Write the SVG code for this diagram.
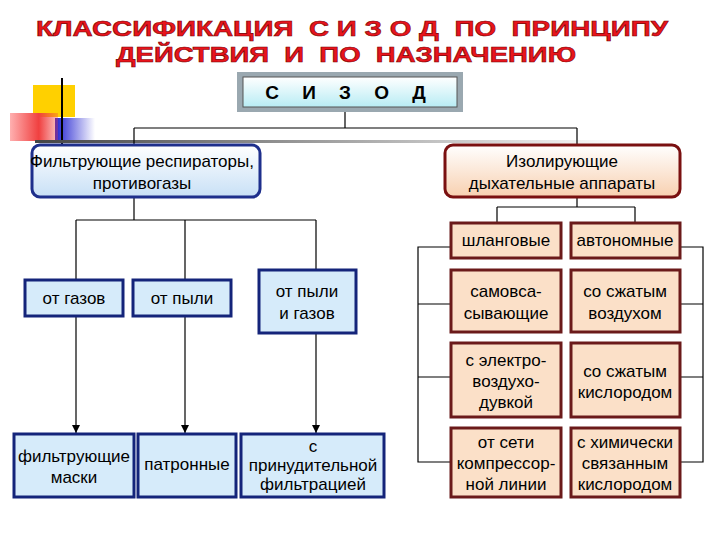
<svg xmlns="http://www.w3.org/2000/svg" width="720" height="540" viewBox="0 0 720 540">
<style>
text{font-family:"Liberation Sans",Arial,sans-serif;font-size:17px;fill:#000;text-anchor:middle}
.t{font-size:22px;font-weight:bold;fill:#e8141c;stroke:#7a0000;stroke-width:0.6}
.b{fill:#d6ebfa;stroke:#14247a;stroke-width:3}
.r{fill:#fbe0c8;stroke:#6b1a1a;stroke-width:3}
.c{fill:none;stroke:#000;stroke-width:1.2}
</style>
<defs>
<linearGradient id="gb" x1="0" y1="0" x2="0" y2="1"><stop offset="0" stop-color="#ffffff"/><stop offset="1" stop-color="#c8e0f6"/></linearGradient>
<linearGradient id="gr" x1="0" y1="0" x2="0" y2="1"><stop offset="0" stop-color="#ffffff"/><stop offset="1" stop-color="#f8d0b0"/></linearGradient>
<linearGradient id="gc" x1="0" y1="0" x2="0" y2="1"><stop offset="0" stop-color="#ffffff"/><stop offset="1" stop-color="#b8ecf4"/></linearGradient>
<linearGradient id="gl" x1="0" y1="0" x2="1" y2="0"><stop offset="0" stop-color="#444"/><stop offset="1" stop-color="#fff"/></linearGradient>
<linearGradient id="gred" x1="0" y1="0" x2="1" y2="0"><stop offset="0" stop-color="#ffb0b0"/><stop offset="0.6" stop-color="#f04040"/><stop offset="1" stop-color="#f04040" stop-opacity="0.3"/></linearGradient>
<linearGradient id="gblu" x1="0" y1="0" x2="1" y2="0"><stop offset="0" stop-color="#2020d0"/><stop offset="1" stop-color="#2020d0" stop-opacity="0"/></linearGradient>
<marker id="ah" viewBox="0 0 10 10" refX="10" refY="5" markerWidth="8" markerHeight="8" orient="auto" markerUnits="userSpaceOnUse"><path d="M0,0 L10,5 L0,10 z" fill="#000"/></marker>
</defs>
<g id="title">
<text class="t" x="352" y="36" xml:space="preserve" textLength="632" lengthAdjust="spacingAndGlyphs">КЛАССИФИКАЦИЯ  С И З О Д  ПО  ПРИНЦИПУ</text>
<text class="t" x="346" y="62" xml:space="preserve" textLength="460" lengthAdjust="spacingAndGlyphs">ДЕЙСТВИЯ  И  ПО  НАЗНАЧЕНИЮ</text>
</g>
<g id="decor">
<rect x="33" y="85" width="42" height="32" fill="#ffd000"/>
<rect x="55" y="118" width="40" height="24" fill="url(#gblu)"/>
<rect x="10" y="113" width="48" height="28" fill="url(#gred)"/>
<line x1="62" y1="78" x2="62" y2="144" stroke="#000" stroke-width="2"/>
<rect x="35" y="140" width="590" height="3" fill="url(#gl)"/>
</g>
<g id="connectors">
<path class="c" d="M345,112 V128 M134,128 H577 M134,128 V145 M577,128 V145"/>
<path class="c" d="M134,197 V220 M76,220 H316 M76,220 V280 M185,220 V280 M316,220 V270"/>
<path class="c" d="M76,316 V433" marker-end="url(#ah)"/>
<path class="c" d="M185,316 V433" marker-end="url(#ah)"/>
<path class="c" d="M316,333 V433" marker-end="url(#ah)"/>
<path class="c" d="M577,197 V207 M497,207 H635 M497,207 V223 M635,207 V223"/>
<path class="c" d="M451,247 H418 V462 H451 M418,304 H451 M418,377 H451"/>
<path class="c" d="M680,247 H703 V462 H680 M703,304 H680 M703,377 H680"/>
</g>
<g id="sizod">
<rect x="237" y="72" width="226" height="40" fill="#9aa8b0"/>
<rect x="243" y="77" width="214" height="30" fill="url(#gc)" stroke="#555" stroke-width="1"/>
<text x="350" y="99" style="font-weight:bold;font-size:19px;letter-spacing:9px">С И З О Д</text>
</g>
<g id="filtr">
<rect x="32" y="145" width="228" height="52" rx="8" fill="url(#gb)" stroke="#1e2f8c" stroke-width="3"/>
<text x="142" y="167">Фильтрующие респираторы,</text>
<text x="142" y="189">противогазы</text>
</g>
<g id="izol">
<rect x="445" y="145" width="235" height="52" rx="8" fill="url(#gr)" stroke="#7a1010" stroke-width="3"/>
<text x="562" y="167">Изолирующие</text>
<text x="562" y="189">дыхательные аппараты</text>
</g>
<g id="otgazov"><rect class="b" x="25" y="280" width="98" height="36"/><text x="74" y="304">от газов</text></g>
<g id="otpyli"><rect class="b" x="133" y="280" width="98" height="36"/><text x="182" y="304">от пыли</text></g>
<g id="otpyligazov"><rect class="b" x="259" y="270" width="97" height="63"/><text x="307" y="297">от пыли</text><text x="307" y="319">и газов</text></g>
<g id="maski"><rect class="b" x="14" y="434" width="120" height="63"/><text x="74" y="462">фильтрующие</text><text x="74" y="483">маски</text></g>
<g id="patron"><rect class="b" x="138" y="434" width="98" height="63"/><text x="187" y="470">патронные</text></g>
<g id="prinud"><rect class="b" x="241" y="434" width="143" height="63"/><text x="313" y="452">с</text><text x="313" y="471">принудительной</text><text x="313" y="490">фильтрацией</text></g>
<g id="shlang"><rect class="r" x="451" y="223" width="110" height="35"/><text x="506" y="246">шланговые</text></g>
<g id="avton"><rect class="r" x="571" y="223" width="109" height="35"/><text x="625" y="246">автономные</text></g>
<g id="samovs"><rect class="r" x="451" y="270" width="110" height="62"/><text x="506" y="297">самовса-</text><text x="506" y="319">сывающие</text></g>
<g id="szhvozd"><rect class="r" x="571" y="270" width="109" height="62"/><text x="625" y="297">со сжатым</text><text x="625" y="319">воздухом</text></g>
<g id="elektro"><rect class="r" x="451" y="343" width="110" height="74"/><text x="506" y="366">с электро-</text><text x="506" y="387">воздухо-</text><text x="506" y="408">дувкой</text></g>
<g id="szhkisl"><rect class="r" x="571" y="343" width="109" height="74"/><text x="625" y="377">со сжатым</text><text x="625" y="398">кислородом</text></g>
<g id="kompr"><rect class="r" x="451" y="428" width="110" height="69"/><text x="506" y="448">от сети</text><text x="506" y="469">компрессор-</text><text x="506" y="490">ной линии</text></g>
<g id="khim"><rect class="r" x="571" y="428" width="109" height="69"/><text x="625" y="448">с химически</text><text x="625" y="469">связанным</text><text x="625" y="490">кислородом</text></g>
</svg>
